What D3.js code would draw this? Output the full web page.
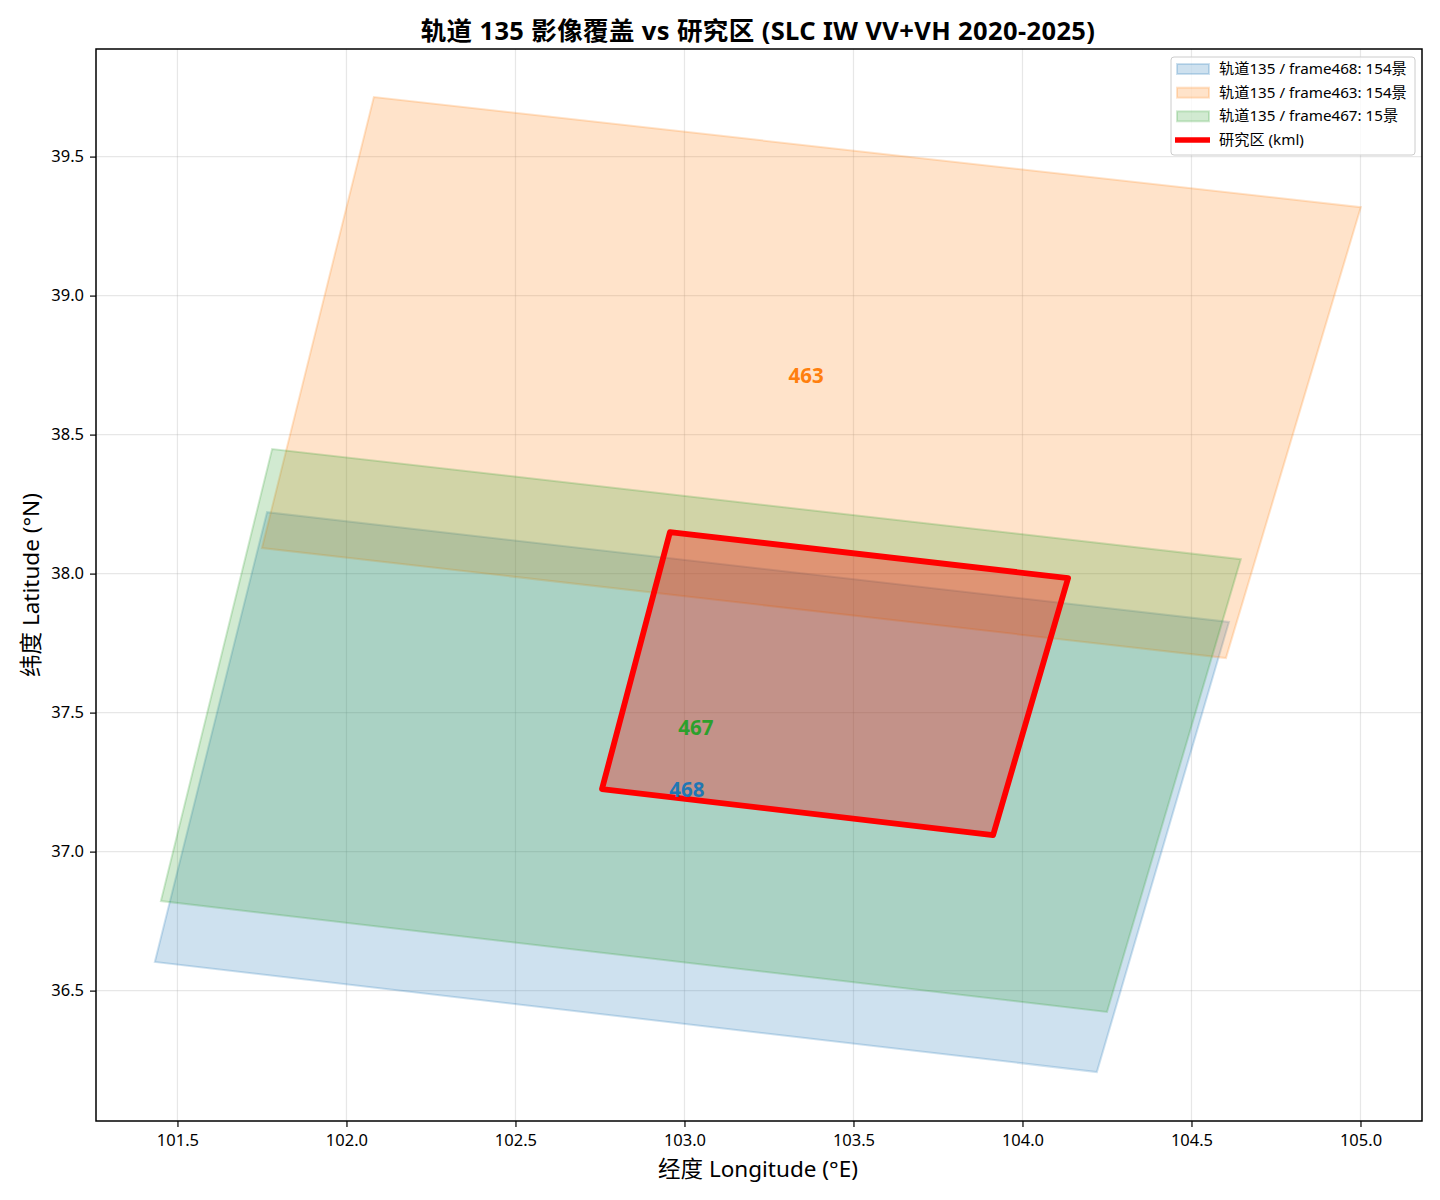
<!DOCTYPE html>
<html>
<head>
<meta charset="utf-8">
<script src="https://cdn.jsdelivr.net/npm/d3@7"></script>
<style>
  body { margin: 0; background: #fff; }
  text { font-family: "Noto Sans", "Noto Sans CJK SC", sans-serif; fill: #000; }
</style>
</head>
<body>
<div class="graphic"></div>
<script>
// frame footprints as [lon, lat]
const frame468 = [[101.433, 36.603], [101.765, 38.221], [104.611, 37.826], [104.220, 36.207]];
const frame463 = [[101.750, 38.092], [102.081, 39.714], [105.001, 39.318], [104.602, 37.696]];
const frame467 = [[101.451, 36.822], [101.780, 38.448], [104.646, 38.052], [104.250, 36.423]];
const studyArea = [[102.756, 37.225], [102.957, 38.149], [104.135, 37.984], [103.913, 37.059]];

const frameNames = ["468", "463", "467"];
const frameColors = ["#1f77b4", "#ff7f0e", "#2ca02c"];
const frameCounts = [154, 154, 15];
const framePolys = [frame468, frame463, frame467];
const labelSpots = [[103.007, 37.225], [103.360, 38.713], [103.034, 37.447]];

const xTicks = [101.5, 102, 102.5, 103, 103.5, 104, 104.5, 105];
const yTicks = [36.5, 37, 37.5, 38, 38.5, 39, 39.5];

const plotL = 96, plotR = 1422, plotT = 49, plotB = 1121;

const svg = d3.select(".graphic")
  .append("svg")
  .attr("width", 1440)
  .attr("height", 1200)
  .style("display", "block");

const xScale = d3.scaleLinear().domain([101.259, 105.182]).range([plotL, plotR]);
const yScale = d3.scaleLinear().domain([36.031, 39.887]).range([plotB, plotT]);

// grid
svg.append("g").selectAll("line").data(xTicks).join("line")
  .attr("x1", d => xScale(d)).attr("x2", d => xScale(d))
  .attr("y1", plotT).attr("y2", plotB)
  .attr("stroke", "#b0b0b0").attr("stroke-opacity", 0.3).attr("stroke-width", 1.2);
svg.append("g").selectAll("line").data(yTicks).join("line")
  .attr("x1", plotL).attr("x2", plotR)
  .attr("y1", d => yScale(d)).attr("y2", d => yScale(d))
  .attr("stroke", "#b0b0b0").attr("stroke-opacity", 0.3).attr("stroke-width", 1.2);

const toPoints = poly => poly.map(p => `${xScale(p[0])},${yScale(p[1])}`).join(" ");

// frames
svg.append("g").selectAll("polygon").data(framePolys).join("polygon")
  .attr("points", toPoints)
  .attr("fill", (d, i) => frameColors[i])
  .attr("fill-opacity", 0.22)
  .attr("stroke", (d, i) => frameColors[i])
  .attr("stroke-opacity", 0.22)
  .attr("stroke-width", 2);

// study area
svg.append("polygon")
  .attr("points", toPoints(studyArea))
  .attr("fill", "red")
  .attr("fill-opacity", 0.3)
  .attr("stroke", "red")
  .attr("stroke-width", 5.8)
  .attr("stroke-linejoin", "round");

// frame labels
svg.append("g").selectAll("text").data(labelSpots).join("text")
  .attr("x", d => xScale(d[0]))
  .attr("y", d => yScale(d[1]))
  .attr("text-anchor", "middle")
  .attr("dominant-baseline", "central")
  .attr("font-size", 20.5)
  .attr("font-weight", "bold")
  .style("fill", (d, i) => frameColors[i])
  .text((d, i) => frameNames[i]);

// axes
const xAxis = svg.append("g")
  .attr("transform", `translate(0,${plotB})`)
  .call(d3.axisBottom(xScale).tickValues(xTicks).tickFormat(d3.format(".1f")).tickSize(6).tickPadding(7));
const yAxis = svg.append("g")
  .attr("transform", `translate(${plotL},0)`)
  .call(d3.axisLeft(yScale).tickValues(yTicks).tickFormat(d3.format(".1f")).tickSize(6).tickPadding(6));
[xAxis, yAxis].forEach(a => {
  a.attr("font-family", null).attr("font-size", null);
  a.select(".domain").remove();
  a.selectAll("line").attr("stroke", "#000").attr("stroke-width", 1.2);
  a.selectAll("text").attr("font-size", 16.5);
});

svg.append("rect")
  .attr("x", plotL).attr("y", plotT)
  .attr("width", plotR - plotL).attr("height", plotB - plotT)
  .attr("fill", "none").attr("stroke", "#000").attr("stroke-width", 1.5);

// titles
svg.append("text")
  .attr("x", 758).attr("y", 30)
  .attr("text-anchor", "middle").attr("dominant-baseline", "central")
  .attr("font-size", 25.5).attr("letter-spacing", 0.38).attr("font-weight", "bold")
  .text("轨道 135 影像覆盖 vs 研究区 (SLC IW VV+VH 2020-2025)");
svg.append("text")
  .attr("x", 758).attr("y", 1168)
  .attr("text-anchor", "middle").attr("dominant-baseline", "central")
  .attr("font-size", 22.5)
  .text("经度 Longitude (°E)");
svg.append("text")
  .attr("transform", "translate(30,585) rotate(-90)")
  .attr("text-anchor", "middle").attr("dominant-baseline", "central")
  .attr("font-size", 22.5)
  .text("纬度 Latitude (°N)");

// legend
const legend = svg.append("g");
legend.append("rect")
  .attr("x", 1171).attr("y", 57).attr("width", 244).attr("height", 98).attr("rx", 3)
  .attr("fill", "#fff").attr("fill-opacity", 0.8)
  .attr("stroke", "#ccc").attr("stroke-width", 1);

const rowY = d3.scalePoint().domain(d3.range(4)).range([69, 140]);

legend.selectAll(".swatch").data(frameNames).join("rect")
  .attr("class", "swatch")
  .attr("x", 1177).attr("y", (d, i) => rowY(i) - 5)
  .attr("width", 32).attr("height", 10)
  .attr("fill", (d, i) => frameColors[i]).attr("fill-opacity", 0.22)
  .attr("stroke", (d, i) => frameColors[i]).attr("stroke-opacity", 0.22).attr("stroke-width", 2);

legend.append("line")
  .attr("x1", 1175).attr("x2", 1210)
  .attr("y1", rowY(3)).attr("y2", rowY(3))
  .attr("stroke", "red").attr("stroke-width", 5.5);

const legendTexts = frameNames.map((d, i) => `轨道135 / frame${d}: ${frameCounts[i]}景`).concat(["研究区 (kml)"]);
legend.selectAll(".ltext").data(legendTexts).join("text")
  .attr("class", "ltext")
  .attr("x", 1219).attr("y", (d, i) => rowY(i) - 1)
  .attr("dominant-baseline", "central")
  .attr("font-size", 15.2)
  .text(d => d);
</script>
</body>
</html>
